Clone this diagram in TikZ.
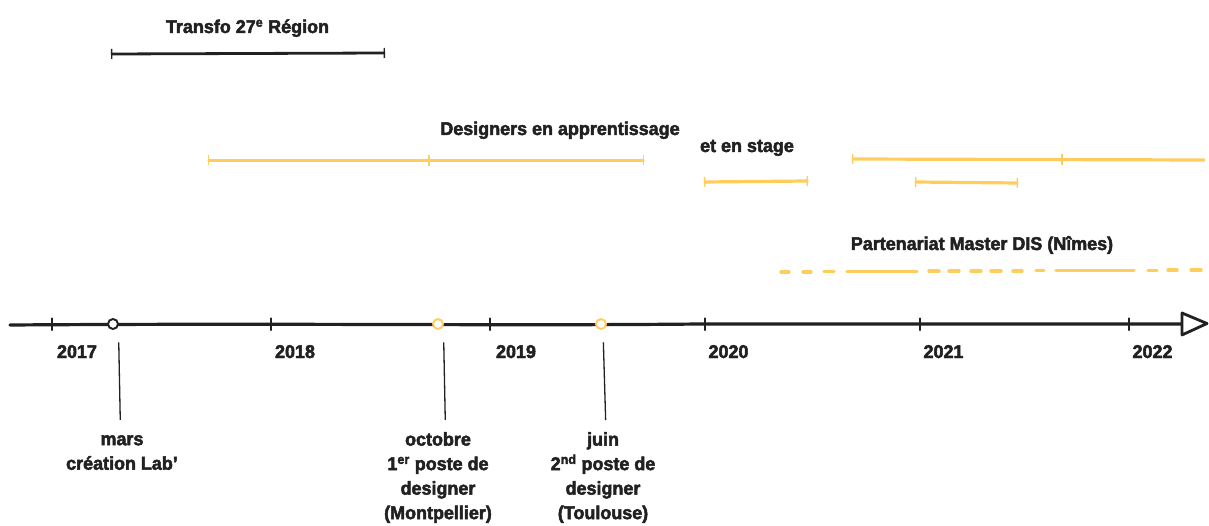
\documentclass[tikz,border=0pt]{standalone}
\usepackage{fontspec}
\setmainfont{Liberation Sans}[BoldFeatures={FakeBold=2.6,FakeStretch=0.97}]
\usetikzlibrary{arrows.meta}
\definecolor{gold}{RGB}{255,205,92}
\definecolor{ink}{RGB}{34,32,33}
\begin{document}
\begin{tikzpicture}[x=1pt,y=-1pt,
  lbl/.style={font=\fontsize{18.5}{24.5}\selectfont\bfseries, text=ink, inner sep=0pt, align=center},
  year/.style={lbl, anchor=base},
  axis/.style={line width=3.2pt, draw=ink, line cap=round},
  yeartick/.style={line width=2.2pt, draw=ink, line cap=round},
  dot/.style={circle, draw=#1, fill=white, line width=1.9pt, minimum size=10pt, inner sep=0pt},
  conn/.style={line width=1.3pt, draw=ink},
  span/.style={line width=3.2pt, draw=#1, line cap=round, {Bar[width=10pt,line width=1.4pt]}-{Bar[width=10pt,line width=1.4pt]}},
  midtick/.style={line width=1.8pt, draw=#1},
  dashseg/.style={line width=3.4pt, draw=gold, line cap=round}
]
\useasboundingbox (0,0) rectangle (1209,526);

% main axis
\coordinate (axstart) at (10,325);
\coordinate (axend) at (1182,324);
\draw[axis] (axstart) .. controls (300,323) and (500,326) .. (700,324) -- (axend);
\draw[line width=2.8pt, draw=ink, fill=white, line join=round] (1182,313) -- (1207,323.5) -- (1182,335) -- cycle;

% year ticks
\foreach \x in {52,271,490,705,920,1129}
  \draw[yeartick] (\x,318.5) -- (\x,330);

% year labels
\node[year] (y17) at (77,358) {2017};
\node[year] (y18) at (295,358) {2018};
\node[year] (y19) at (516,358) {2019};
\node[year] (y20) at (728.5,358) {2020};
\node[year] (y21) at (943.5,358) {2021};
\node[year] (y22) at (1152.5,358) {2022};

% event dots
\node[dot=ink] (c1) at (113,324) {};
\node[dot=gold] (c2) at (438,324) {};
\node[dot=gold] (c3) at (601,324) {};

% event labels
\node[lbl, anchor=north] (l1) at (122,432) {\rule{0pt}{13pt}mars\\création Lab’};
\node[lbl, anchor=north] (l2) at (438,432) {\rule{0pt}{13pt}octobre\\1\textsuperscript{er} poste de\\designer\\(Montpellier)};
\node[lbl, anchor=north] (l3) at (603,432) {\rule{0pt}{13pt}juin\\2\textsuperscript{nd} poste de\\designer\\(Toulouse)};

% connectors
\draw[conn, shorten <=12.5pt, shorten >=12pt] ([xshift=5.5pt]c1.south) -- ([xshift=-1.5pt]l1.north);
\draw[conn, shorten <=12.5pt, shorten >=12pt] ([xshift=5.5pt]c2.south) -- ([xshift=7.5pt]l2.north);
\draw[conn, shorten <=12.5pt, shorten >=12pt] ([xshift=2pt]c3.south) -- ([xshift=3pt]l3.north);

% Transfo 27e Region
\node[year] (ttr) at (247.5,33) {Transfo 27\textsuperscript{e} Région};
\draw[span=ink, line width=2.8pt] (111,54) -- (385,53);

% Designers en apprentissage / et en stage
\node[year] (tdes) at (560,135) {Designers en apprentissage};
\node[year] (tstg) at (747,152) {et en stage};
\draw[span=gold] (208,160.5) -- (644,160.5);
\draw[midtick=gold] (429,155) -- (429,166);
\draw[span=gold] (704,182) -- (808,181);
\draw[line width=3.2pt, draw=gold, line cap=round, {Bar[width=10pt,line width=1.4pt]}-] (852,159) -- (1204,160);
\draw[midtick=gold] (1062,154) -- (1062,165);
\draw[span=gold] (915,182) -- (1018,183);

% Partenariat Master DIS
\node[year] (tpar) at (982,250) {Partenariat Master DIS (Nîmes)};
\draw[dashseg]
  (781,272) -- (789,272) (803,272) -- (811,272) (824,271.5) -- (834,271.5)
  (847,271.5) -- (917,271.5)
  (929,271) -- (939,271) (949,271) -- (959,271) (971,271) -- (981,271)
  (991,271) -- (1001,271) (1013,271) -- (1022,271) (1036,270.5) -- (1044,270.5)
  (1056,270.5) -- (1134,270.5)
  (1148,270.5) -- (1157,270.5) (1168,270) -- (1177,270) (1191,270) -- (1201,270);
\end{tikzpicture}
\end{document}
